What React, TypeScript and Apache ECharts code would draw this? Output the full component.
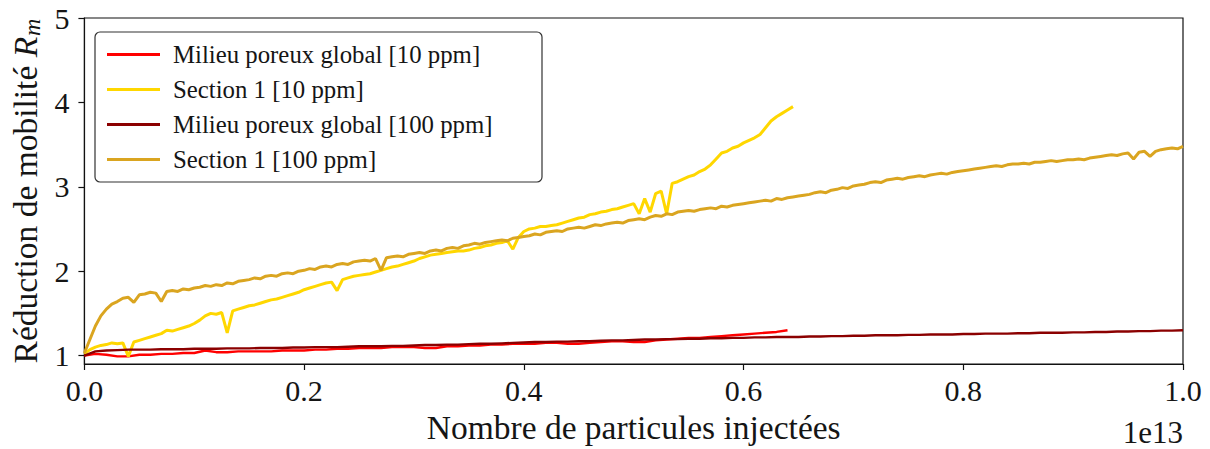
import React, { useEffect, useRef } from "react";
import * as echarts from "echarts";

// x values in units of 1e13 injected particles
const X_TICKS = [0, 0.2, 0.4, 0.6, 0.8, 1.0];
const Y_TICKS = [1, 2, 3, 4, 5];
const X_OFFSET_LABEL = "1e13";

const SERIES_NAMES = [
  "Milieu poreux global [10 ppm]",
  "Section 1 [10 ppm]",
  "Milieu poreux global [100 ppm]",
  "Section 1 [100 ppm]",
];
const SERIES_COLORS = ["#ff0000", "#ffd700", "#8b0000", "#daa520"];

// sampling steps (x spacing of the read values)
const STEP_FINE = 0.005;
const STEP_COARSE = 0.01;

// Milieu poreux global [10 ppm], x = 0 .. 0.64 step 0.01
const RED_10 = [
  1.0, 1.02, 1.01, 0.99, 0.99, 1.01, 1.01, 1.02, 1.02, 1.03,
  1.03, 1.06, 1.04, 1.04, 1.05, 1.05, 1.05, 1.05, 1.06, 1.06,
  1.06, 1.07, 1.07, 1.08, 1.08, 1.09, 1.09, 1.09, 1.1, 1.1,
  1.1, 1.09, 1.09, 1.11, 1.11, 1.12, 1.12, 1.13, 1.13, 1.14,
  1.14, 1.14, 1.15, 1.15, 1.14, 1.14, 1.15, 1.16, 1.17, 1.17,
  1.16, 1.16, 1.18, 1.19, 1.2, 1.21, 1.21, 1.22, 1.23, 1.24,
  1.25, 1.26, 1.27, 1.28, 1.3,
];

// Section 1 [10 ppm], x = 0 .. 0.645 step 0.005
const YEL_10 = [
  1.02, 1.07, 1.1, 1.12, 1.13, 1.15, 1.14, 1.15, 0.99, 1.16,
  1.18, 1.2, 1.22, 1.24, 1.26, 1.3, 1.29, 1.31, 1.33, 1.35,
  1.38, 1.42, 1.47, 1.5, 1.49, 1.51, 1.27, 1.53, 1.55, 1.57,
  1.59, 1.6, 1.62, 1.64, 1.66, 1.67, 1.69, 1.71, 1.73, 1.75,
  1.78, 1.8, 1.82, 1.84, 1.86, 1.87, 1.77, 1.9, 1.92, 1.94,
  1.95, 1.96, 1.97, 1.99, 2.01, 2.03, 2.05, 2.06, 2.08, 2.1,
  2.12, 2.15, 2.17, 2.19, 2.2, 2.21, 2.22, 2.23, 2.24, 2.24,
  2.25, 2.27, 2.28, 2.3, 2.31, 2.33, 2.34, 2.36, 2.26, 2.4,
  2.47, 2.5, 2.51, 2.53, 2.53, 2.54, 2.55, 2.57, 2.59, 2.61,
  2.63, 2.64, 2.67, 2.68, 2.7, 2.71, 2.73, 2.74, 2.76, 2.78,
  2.8, 2.68, 2.86, 2.7, 2.92, 2.95, 2.68, 3.04, 3.06, 3.09,
  3.12, 3.14, 3.18, 3.21, 3.26, 3.33, 3.4, 3.42, 3.46, 3.48,
  3.52, 3.55, 3.58, 3.62, 3.7, 3.78, 3.83, 3.87, 3.91, 3.95,
];

// Milieu poreux global [100 ppm], x = 0 .. 1.0 step 0.01
const DARK_100 = [
  1.0, 1.05, 1.06, 1.065, 1.07, 1.07, 1.07, 1.075, 1.075, 1.075,
  1.08, 1.08, 1.08, 1.085, 1.085, 1.085, 1.09, 1.09, 1.09, 1.095,
  1.095, 1.1, 1.1, 1.1, 1.105, 1.11, 1.11, 1.11, 1.115, 1.115,
  1.12, 1.125, 1.125, 1.13, 1.13, 1.135, 1.14, 1.14, 1.145, 1.15,
  1.155, 1.16, 1.16, 1.165, 1.165, 1.17, 1.17, 1.175, 1.18, 1.18,
  1.185, 1.19, 1.19, 1.195, 1.195, 1.2, 1.2, 1.205, 1.205, 1.21,
  1.21, 1.215, 1.215, 1.22, 1.22, 1.22, 1.225, 1.225, 1.23, 1.23,
  1.235, 1.235, 1.24, 1.24, 1.24, 1.245, 1.245, 1.25, 1.25, 1.25,
  1.255, 1.255, 1.26, 1.26, 1.26, 1.265, 1.265, 1.27, 1.27, 1.27,
  1.275, 1.275, 1.28, 1.28, 1.285, 1.285, 1.29, 1.29, 1.295, 1.295,
  1.3,
];

// Section 1 [100 ppm], x = 0 .. 1.0 step 0.005
const GOLD_100 = [
  1.03, 1.19, 1.35, 1.47, 1.55, 1.61, 1.64, 1.68, 1.69, 1.63,
  1.72, 1.73, 1.75, 1.74, 1.64, 1.76, 1.77, 1.76, 1.79, 1.78,
  1.8, 1.81, 1.83, 1.82, 1.84, 1.83, 1.86, 1.85, 1.88, 1.89,
  1.9, 1.92, 1.91, 1.94, 1.95, 1.94, 1.97, 1.98, 1.97, 2.0,
  2.01, 2.03, 2.02, 2.05, 2.06, 2.05, 2.08, 2.09, 2.08, 2.11,
  2.12, 2.13, 2.12, 2.15, 2.01, 2.16, 2.17, 2.18, 2.17, 2.2,
  2.21, 2.22, 2.21, 2.24, 2.25, 2.24, 2.27, 2.28, 2.27, 2.3,
  2.31, 2.33, 2.32, 2.34, 2.35, 2.36, 2.37, 2.36, 2.39, 2.4,
  2.41, 2.42, 2.44, 2.43, 2.46, 2.47, 2.48, 2.47, 2.5, 2.51,
  2.52, 2.51, 2.53, 2.55, 2.54, 2.56, 2.57, 2.58, 2.57, 2.6,
  2.61, 2.62, 2.61, 2.64, 2.66, 2.65, 2.68, 2.67, 2.7, 2.71,
  2.72, 2.71, 2.73, 2.74, 2.75, 2.74, 2.77, 2.76, 2.78, 2.79,
  2.8, 2.81, 2.82, 2.83, 2.84, 2.83, 2.86, 2.85, 2.87, 2.88,
  2.89, 2.9, 2.91, 2.93, 2.94, 2.93, 2.96, 2.97, 2.99, 2.98,
  3.01, 3.02, 3.03, 3.05, 3.06, 3.05, 3.08, 3.09, 3.1, 3.09,
  3.11, 3.12, 3.13, 3.12, 3.14, 3.15, 3.16, 3.15, 3.17, 3.18,
  3.19, 3.2, 3.21, 3.22, 3.23, 3.24, 3.25, 3.24, 3.26, 3.27,
  3.27, 3.28, 3.27, 3.29, 3.29, 3.3, 3.31, 3.3, 3.31, 3.32,
  3.32, 3.33, 3.32, 3.34, 3.35, 3.36, 3.37, 3.38, 3.37, 3.39,
  3.4, 3.33, 3.41, 3.42, 3.36, 3.42, 3.44, 3.45, 3.46, 3.45,
  3.48,
];

const FONT = "'Liberation Serif', 'DejaVu Serif', serif";
const TICK_SIZE = 30;
const LABEL_SIZE = 33.5;
const LEGEND_SIZE = 24.8;
const TEXT_COLOR = "#151515";

function toPairs(step: number, ys: number[]) {
  return ys.map((y, i) => [Number((i * step).toFixed(4)), y]);
}

export default function App() {
  const ref = useRef<HTMLDivElement>(null);

  useEffect(() => {
    if (!ref.current) return;
    const chart = echarts.init(ref.current, null, { renderer: "svg" });
    const datasets = [
      toPairs(STEP_COARSE, RED_10),
      toPairs(STEP_FINE, YEL_10),
      toPairs(STEP_COARSE, DARK_100),
      toPairs(STEP_FINE, GOLD_100),
    ];
    const option: any = {
      animation: false,
      backgroundColor: "#ffffff",
      textStyle: { fontFamily: FONT, color: TEXT_COLOR },
      grid: {
        left: 82,
        top: 18,
        width: 1101,
        height: 350,
        show: true,
        borderColor: "#111",
        borderWidth: 1.2,
        backgroundColor: "transparent",
      },
      legend: {
        orient: "vertical",
        left: 107,
        top: 42,
        padding: 0,
        itemWidth: 53,
        itemHeight: 3,
        itemGap: 10,
        icon: "rect",
        data: SERIES_NAMES,
        textStyle: {
          fontFamily: FONT,
          fontSize: LEGEND_SIZE,
          color: TEXT_COLOR,
          lineHeight: 25,
          padding: [0, 0, 0, 8],
        },
      },
      graphic: [
        {
          type: "rect",
          z: 3,
          shape: { x: 95, y: 32, width: 447, height: 150, r: 5 },
          style: { fill: "rgba(255,255,255,0.85)", stroke: "#333", lineWidth: 1.2 },
        },
        {
          type: "text",
          z: 5,
          x: 1183,
          y: 432,
          style: {
            text: X_OFFSET_LABEL,
            fontFamily: FONT,
            fontSize: 31,
            fill: TEXT_COLOR,
            align: "right",
            verticalAlign: "middle",
          },
        },
      ],
      xAxis: {
        type: "value",
        min: 0,
        max: 1,
        interval: 0.2,
        axisLine: { show: true, onZero: false, lineStyle: { color: "#111", width: 1.2 } },
        axisTick: { show: true, inside: false, length: 6, lineStyle: { color: "#111", width: 1.2 } },
        axisLabel: {
          customValues: X_TICKS,
          formatter: (v: number) => v.toFixed(1),
          fontFamily: FONT,
          fontSize: TICK_SIZE,
          color: TEXT_COLOR,
          margin: 11,
        },
        splitLine: { show: false },
        name: "Nombre de particules injectées",
        nameLocation: "middle",
        nameGap: 46,
        nameTextStyle: { fontFamily: FONT, fontSize: LABEL_SIZE, color: TEXT_COLOR },
      },
      yAxis: {
        type: "value",
        min: 0.9,
        max: 5,
        axisLine: { show: true, onZero: false, lineStyle: { color: "#111", width: 1.2 } },
        axisTick: {
          show: true,
          inside: false,
          length: 6,
          customValues: Y_TICKS,
          lineStyle: { color: "#111", width: 1.2 },
        },
        axisLabel: {
          customValues: Y_TICKS,
          formatter: (v: number) => String(Math.round(v)),
          fontFamily: FONT,
          fontSize: TICK_SIZE,
          color: TEXT_COLOR,
          margin: 15,
        },
        splitLine: { show: false },
        name: "{a|Réduction de mobilité }{b|R}{c|m}",
        nameLocation: "middle",
        nameGap: 39,
        nameTextStyle: {
          fontFamily: FONT,
          color: TEXT_COLOR,
          rich: {
            a: { fontFamily: FONT, fontSize: LABEL_SIZE, color: TEXT_COLOR, lineHeight: 37 },
            b: { fontFamily: FONT, fontSize: LABEL_SIZE, fontStyle: "italic", color: TEXT_COLOR, lineHeight: 37 },
            c: {
              fontFamily: FONT,
              fontSize: 24,
              fontStyle: "italic",
              color: TEXT_COLOR,
              lineHeight: 37,
              verticalAlign: "bottom",
              padding: [0, 0, 0, 1],
            },
          },
        },
      },
      series: SERIES_NAMES.map((name, i) => ({
        name,
        type: "line",
        data: datasets[i],
        showSymbol: false,
        symbol: "none",
        clip: true,
        lineStyle: { color: SERIES_COLORS[i], width: i % 2 === 1 ? 3 : 2.4 },
        itemStyle: { color: SERIES_COLORS[i] },
        z: 2,
      })),
    };
    chart.setOption(option);
    return () => chart.dispose();
  }, []);

  return (
    <div
      ref={ref}
      style={{ position: "absolute", left: 0, top: 0, width: 1210, height: 449, background: "#fff" }}
    />
  );
}
